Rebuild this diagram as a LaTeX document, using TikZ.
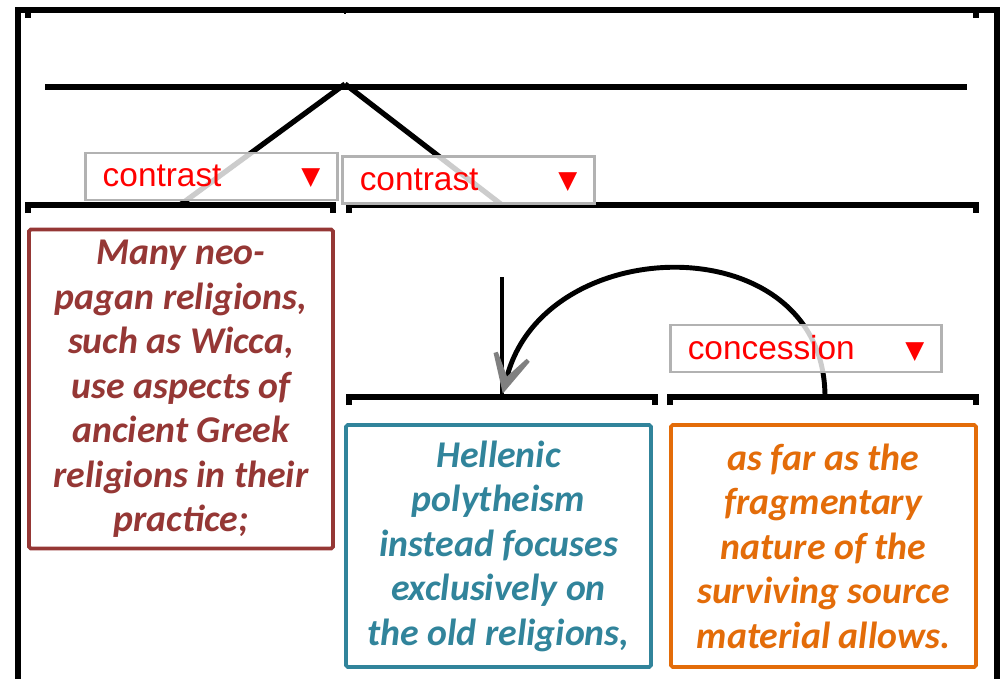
\documentclass[tikz,border=0pt]{standalone}
\usepackage{fontspec}
\setmainfont{Carlito}
\newfontfamily\relfont{Liberation Sans}
\newfontfamily\symfont{DejaVu Sans}
\usetikzlibrary{positioning,arrows.meta}

\definecolor{segred}{HTML}{953735}
\definecolor{segteal}{HTML}{31849B}
\definecolor{segorange}{HTML}{E36C09}

% relation name with the drop-down marker at the right
\newcommand{\reltext}[2]{\makebox[#2][l]{#1\hfill\raisebox{1pt}{\symfont\fontsize{14}{14}\selectfont ▼}}\hspace{3pt}}

\begin{document}
\begin{tikzpicture}[
				x=0.2mm, y=-0.2mm,
				span/.style={line width=3pt},
				seg/.style={rectangle, draw, line width=2.2pt, rounded corners=1pt, minimum width=6.1cm, align=center,
					font=\fontsize{21.5}{25.3}\selectfont\bfseries\itshape},
				rel/.style={rectangle, draw=black!30, line width=1.5pt, fill=white, fill opacity=0.8, text opacity=1,
					minimum height=0.94cm, inner xsep=0.34cm, text=red, font=\fontsize{19}{22}\selectfont\relfont},
				tip/.style={-{Stealth[length=38pt, width=38pt, inset=28pt, color=black!50]}}
				]
				\useasboundingbox (0,0) rectangle (1001,679);
				
				% outer frame and top span
				\draw[span] (18,679) -- (18,10) -- (997,10) -- (997,679);
				\draw[span] (28,10) -- (28,18);
				\draw[span] (976,10) -- (976,18);
				\draw[line width=1pt] (345,10) -- (345,14);
				\draw[span] (45,87) -- (967,87);
				
				\coordinate (apex) at (345,84);
				\coordinate (manytop) at (180,205);
				\coordinate (restop) at (502,205);
				\coordinate (nucstart) at (502,277);
				\coordinate (hellentop) at (502,397);
				\coordinate (asfartop) at (825,397);
				
				% spans
				\draw[span] (28,213) -- (28,205) -- (333,205) -- (333,213);
				\draw[span] (349,213) -- (349,205) -- (976,205) -- (976,213);
				\draw[span] (349,405) -- (349,397) -- (655,397) -- (655,405);
				\draw[span] (670,405) -- (670,397) -- (976,397) -- (976,405);
				
				% multinuclear relation
				\draw[span] (apex) -- (manytop);
				\draw[span] (apex) -- (restop);
				\node[rel] (contrastA) at (211.5,176.5) {\reltext{contrast}{4.35cm}};
				\node[rel] (contrastB) at (468.5,180) {\reltext{contrast}{4.35cm}};
				
				% satellite to nucleus
				\draw[line width=2.6pt] (nucstart) -- (hellentop);
				\draw[line width=2.8pt, shorten >=2pt, tip] (asfartop) .. controls (825,225) and (543,229) .. (hellentop);
				\node[rel] (concession) at (806,348.5) {\reltext{concession}{4.73cm}};
				
				% segments
				\node[seg, draw=segred, text=segred, minimum width=6.08cm, minimum height=6.38cm] (many) at (181,389)
					{Many neo-\\pagan religions,\\such as Wicca,\\use aspects of\\ancient Greek\\religions in their\\practice;};
				\node[seg, draw=segteal, text=segteal, minimum height=4.84cm] (hellenic) at (498.5,546)
					{Hellenic\\polytheism\\instead focuses\\exclusively on\\the old religions,};
				\node[seg, draw=segorange, text=segorange, minimum height=4.84cm] (asfar) at (823.5,546)
					{as far as the\\fragmentary\\nature of the\\surviving source\\material allows.};
			\end{tikzpicture}
\end{document}
